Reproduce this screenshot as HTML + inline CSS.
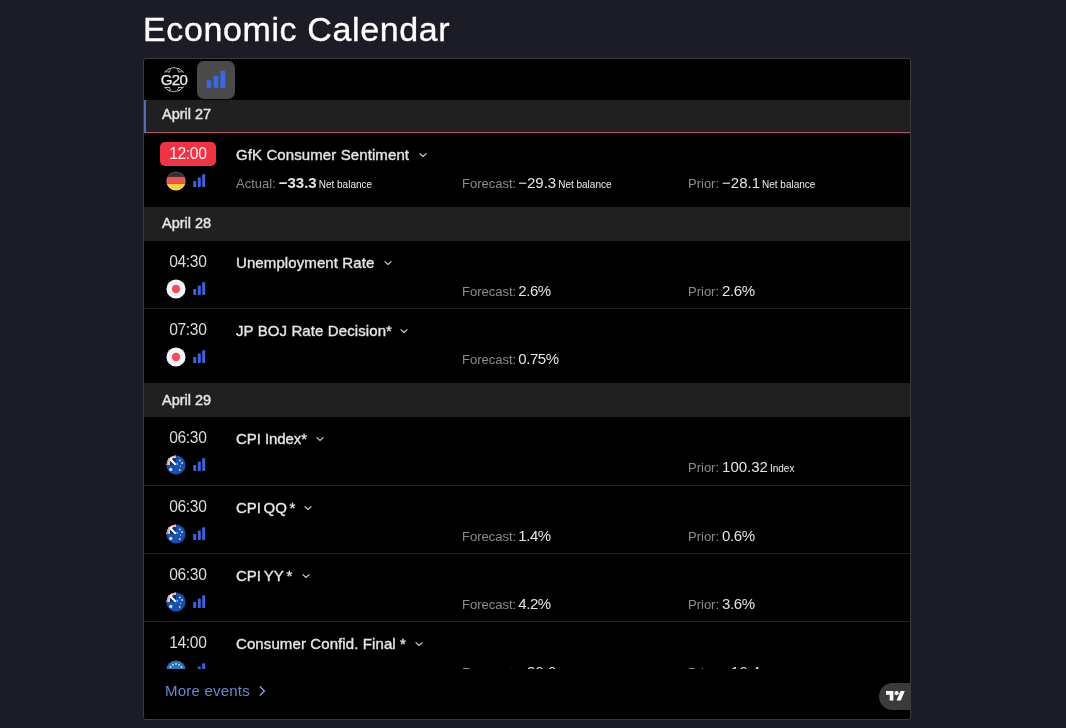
<!DOCTYPE html>
<html lang="en">
<head>
<meta charset="utf-8">
<title>Economic Calendar</title>
<style>
*{box-sizing:border-box;margin:0;padding:0}
html,body{width:1066px;height:728px;overflow:hidden;background:#1c1c27;}
body{font-family:"Liberation Sans",sans-serif;color:#dedede;position:relative}
h1{will-change:transform;position:absolute;left:143px;top:9px;font-size:34px;line-height:40px;letter-spacing:0.62px;font-weight:400;color:#fff;white-space:nowrap;-webkit-text-stroke:0.35px #fff}
#w{will-change:transform;position:absolute;left:143px;top:58px;width:768px;height:662px;border:1px solid #3a3a42;border-radius:3px;background:#000;overflow:hidden}
#list{position:absolute;left:0;top:0;width:766px;height:610px;overflow:hidden}
.abs{position:absolute}
.hdr{position:absolute;left:0;width:766px;height:34px;background:#202020;font-weight:400;font-size:14.500px;letter-spacing:0;-webkit-text-stroke:0.400px #e6e6e6;line-height:34px;padding-left:18px;color:#e6e6e6;white-space:nowrap}
.row{position:absolute;left:0;width:766px;height:68px}
.row.sep{border-bottom:1px solid #222}
.time{position:absolute;left:16px;top:9px;width:56px;height:24px;line-height:24px;text-align:center;font-size:15.600px;letter-spacing:-0.350px;text-indent:-0.350px;color:#dcdcdc;border-radius:5px;white-space:nowrap}
.time.now{background:#ee3546;color:#ffe9ec}
.ttl{position:absolute;left:92px;top:10px;height:24px;line-height:24px;font-size:15px;font-weight:400;letter-spacing:0.100px;color:#e6e6e6;-webkit-text-stroke:0.350px #e6e6e6;white-space:nowrap}
.ttl svg{display:inline-block;vertical-align:middle;margin-left:8.500px;margin-top:-2px;width:10px;height:6px}
.flag{position:absolute;left:21.500px;top:38px;width:20px;height:20px}
.imp{position:absolute;left:49px;top:41px;width:13px;height:13px}
.val{position:absolute;top:40px;height:20px;line-height:20px;white-space:nowrap;font-size:15px;color:#e4e4e4}
.val i{font-style:normal;font-size:13px;color:#8c8c8c;margin-right:3px}
.val b{font-weight:700}
.val s{text-decoration:none;letter-spacing:-0.400px}
.c2 i{margin-right:2px}
.val u{text-decoration:none;font-size:10px;margin-left:2px;color:#ededed}
.c1{left:92px}.c2{left:318px}.c3{left:544px}
#more{position:absolute;left:21px;top:621px;font-size:15px;line-height:22px;letter-spacing:0.220px;color:#6988d2;white-space:nowrap}
#more svg{position:absolute;left:92.500px;top:5px;width:8px;height:12px}
#tv{position:absolute;left:735px;top:624px;width:32px;height:27px;background:#3b3b3b;border-radius:14px 0 0 14px}
</style>
</head>
<body>
<svg width="0" height="0" style="position:absolute">
  <defs>
    <clipPath id="cc"><circle cx="10" cy="10" r="9.600"/></clipPath>
    <clipPath id="cq"><rect x="0" y="0" width="10" height="10"/></clipPath>
    <symbol id="f-de" viewBox="0 0 20 20"><g clip-path="url(#cc)"><rect width="20" height="5.800" fill="#2f3035"/><rect y="5.800" width="20" height="7" fill="#e9554f"/><rect y="12.800" width="20" height="7.200" fill="#fcd13f"/></g><circle cx="10" cy="10" r="9.200" fill="none" stroke="#fff" stroke-opacity="0.18" stroke-width="0.800"/></symbol>
    <symbol id="f-jp" viewBox="0 0 20 20"><circle cx="10" cy="10" r="9.600" fill="#f5f4fa"/><circle cx="10" cy="10" r="4.200" fill="#ee4f5e"/></symbol>
    <symbol id="f-au" viewBox="0 0 20 20"><g clip-path="url(#cc)"><rect width="20" height="20" fill="#1b4fa8"/>
      <g clip-path="url(#cq)"><rect width="10" height="10" fill="#112f74"/><path d="M1 1L10 10" stroke="#fff" stroke-width="2"/><path d="M3.400 6.800V3.600H6.600" fill="none" stroke="#fff" stroke-width="1.400"/><rect width="10" height="3" fill="#fbe4e6"/><rect width="4" height="10" fill="#fbe4e6"/><rect width="10" height="1.700" fill="#ef8288"/><rect width="2.500" height="10" fill="#ef8288"/><rect x="3.300" width="0.700" height="10" fill="#f3a0a5"/><rect y="2.500" width="10" height="0.500" fill="#f3a0a5"/></g>
      <g fill="#c8e3fb"><circle cx="4.800" cy="14.400" r="1.600"/><circle cx="13.900" cy="5.400" r="0.900"/><circle cx="16.100" cy="8" r="0.900"/><circle cx="14.600" cy="11.200" r="0.600"/><circle cx="13.700" cy="14.900" r="0.900"/><circle cx="11.200" cy="9" r="0.800"/></g></g></symbol>
    <symbol id="f-eu" viewBox="0 0 20 20"><circle cx="10" cy="10" r="9.600" fill="#2d72b4"/><g fill="#cfe6fb"><circle cx="10.00" cy="3.80" r="0.9"/><circle cx="13.10" cy="4.63" r="0.9"/><circle cx="15.37" cy="6.90" r="0.9"/><circle cx="16.20" cy="10.00" r="0.9"/><circle cx="15.37" cy="13.10" r="0.9"/><circle cx="13.10" cy="15.37" r="0.9"/><circle cx="10.00" cy="16.20" r="0.9"/><circle cx="6.90" cy="15.37" r="0.9"/><circle cx="4.63" cy="13.10" r="0.9"/><circle cx="3.80" cy="10.00" r="0.9"/><circle cx="4.63" cy="6.90" r="0.9"/><circle cx="6.90" cy="4.63" r="0.9"/></g></symbol>
    <symbol id="imp" viewBox="0 0 13 13"><g fill="#3b63dd"><rect x="0.200" y="6.900" width="3" height="6" rx="0.600"/><rect x="4.800" y="3.400" width="3" height="9.500" rx="0.600"/><rect x="9.200" y="0.200" width="3" height="12.700" rx="0.600"/></g></symbol>
    <symbol id="chv" viewBox="0 0 10 6"><path d="M1.600 1.300L5 4.500L8.400 1.300" fill="none" stroke="#d8d8d8" stroke-width="1.100"/></symbol>
  </defs>
</svg>
<h1>Economic Calendar</h1>
<div id="w">
  <!-- toolbar -->
  <svg class="abs" style="left:16px;top:7px" width="28" height="28" viewBox="0 0 28 28">
    <g fill="none" stroke="#c2c2c2" stroke-width="0.900">
      <circle cx="14" cy="13.700" r="12"/>
      <ellipse cx="14" cy="13.700" rx="6.300" ry="12.300"/>
      <path d="M4.800 5.900h5M18.200 5.900h5M4.800 21.500h5M18.200 21.500h5"/>
    </g>
    <rect x="10" y="0" width="8" height="3.300" fill="#000"/><rect x="10" y="24.100" width="8" height="3.900" fill="#000"/>
    <path d="M8.500 3A12 12 0 0 1 19.500 3M8.500 24.400A12 12 0 0 0 19.500 24.400" fill="none" stroke="#c2c2c2" stroke-width="0.900"/>
    <rect x="0" y="6.600" width="28" height="14.200" fill="#000"/>
    <text x="14" y="19.100" text-anchor="middle" font-family="Liberation Sans, sans-serif" font-size="15" fill="#ececec" stroke="#ececec" stroke-width="0.250" letter-spacing="-0.6">G20</text>
  </svg>
  <div class="abs" style="left:53px;top:2px;width:38px;height:38px;border-radius:7px;background:#4a4a4a"></div>
  <svg class="abs" style="left:53px;top:2px" width="38" height="38" viewBox="0 0 38 38">
    <g fill="#3a68e0">
      <rect x="9.700" y="19.300" width="4.600" height="8" rx="1.200"/>
      <rect x="16.600" y="14.500" width="4.800" height="12.800" rx="1.200"/>
      <rect x="23.400" y="9.800" width="4.800" height="17.500" rx="1.200"/>
    </g>
  </svg>

  <div id="list">
    <div class="hdr" style="top:41px;height:32px;line-height:28px">April 27</div>
    <div class="abs" style="left:0;top:72px;width:766px;height:1px;background:#2c1c1d"></div>
    <div class="abs" style="left:0;top:73px;width:766px;height:1px;background:#a75e64"></div>
    <div class="abs" style="left:0;top:74px;width:766px;height:1px;background:#330709"></div>
    <div class="abs" style="left:0;top:75px;width:766px;height:1px;background:#120203"></div>

    <div class="abs" style="left:0;top:41px;width:2px;height:33px;background:#566db6"></div>
    <div class="row" style="top:74px">
      <svg class="flag"><use href="#f-de"/></svg><svg class="imp"><use href="#imp"/></svg>
      <div class="time now">12:00</div>
      <div class="ttl">GfK Consumer Sentiment<svg><use href="#chv"/></svg></div>
      <div class="val c1"><i>Actual:</i><b>−33.3</b><u>Net balance</u></div>
      <div class="val c2"><i>Forecast:</i>−29.3<u>Net balance</u></div>
      <div class="val c3"><i>Prior:</i>−28.1<u>Net balance</u></div>
    </div>

    <div class="hdr" style="top:148px;line-height:32px">April 28</div>
    <div class="row sep" style="top:182px">
      <svg class="flag"><use href="#f-jp"/></svg><svg class="imp"><use href="#imp"/></svg>
      <div class="time">04:30</div>
      <div class="ttl">Unemployment Rate<svg><use href="#chv"/></svg></div>
      <div class="val c2"><i>Forecast:</i><s>2.6%</s></div>
      <div class="val c3"><i>Prior:</i><s>2.6%</s></div>
    </div>
    <div class="row" style="top:250px">
      <svg class="flag"><use href="#f-jp"/></svg><svg class="imp"><use href="#imp"/></svg>
      <div class="time">07:30</div>
      <div class="ttl">JP BOJ Rate Decision*<svg style="margin-left:7px"><use href="#chv"/></svg></div>
      <div class="val c2"><i>Forecast:</i><s>0.75%</s></div>
    </div>

    <div class="hdr" style="top:324px">April 29</div>
    <div class="row sep" style="top:358px;height:69px">
      <svg class="flag"><use href="#f-au"/></svg><svg class="imp"><use href="#imp"/></svg>
      <div class="time">06:30</div>
      <div class="ttl" style="letter-spacing:-0.070px">CPI Index*<svg style="margin-left:7.500px"><use href="#chv"/></svg></div>
      <div class="val c3"><i>Prior:</i>100.32<u>Index</u></div>
    </div>
    <div class="row sep" style="top:427px">
      <svg class="flag"><use href="#f-au"/></svg><svg class="imp"><use href="#imp"/></svg>
      <div class="time">06:30</div>
      <div class="ttl" style="letter-spacing:-0.100px;word-spacing:-1.200px">CPI QQ *<svg style="margin-left:7.500px"><use href="#chv"/></svg></div>
      <div class="val c2"><i>Forecast:</i><s>1.4%</s></div>
      <div class="val c3"><i>Prior:</i><s>0.6%</s></div>
    </div>
    <div class="row sep" style="top:495px">
      <svg class="flag"><use href="#f-au"/></svg><svg class="imp"><use href="#imp"/></svg>
      <div class="time">06:30</div>
      <div class="ttl" style="letter-spacing:0;word-spacing:-1.200px">CPI YY *<svg><use href="#chv"/></svg></div>
      <div class="val c2"><i>Forecast:</i><s>4.2%</s></div>
      <div class="val c3"><i>Prior:</i><s>3.6%</s></div>
    </div>
    <div class="row" style="top:563px">
      <svg class="flag"><use href="#f-eu"/></svg><svg class="imp"><use href="#imp"/></svg>
      <div class="time">14:00</div>
      <div class="ttl">Consumer Confid. Final *<svg><use href="#chv"/></svg></div>
      <div class="val c2"><i>Forecast:</i>−20.6</div>
      <div class="val c3"><i>Prior:</i>−16.4</div>
    </div>
  </div>

  <div id="more">More events<svg viewBox="0 0 8 12"><path d="M1.800 1.500L6.400 6L1.800 10.500" fill="none" stroke="#8ea6e6" stroke-width="1.300"/></svg></div>
  <div id="tv">
    <svg class="abs" style="left:6.500px;top:6.200px" width="19" height="14.800" viewBox="0 0 36 28"><path d="M14 22H7V11H0V4h14v18zM28 22h-8l7.500-18h8L28 22z" fill="#fff"/><circle cx="20" cy="8" r="4" fill="#fff"/></svg>
  </div>
</div>
</body>
</html>
